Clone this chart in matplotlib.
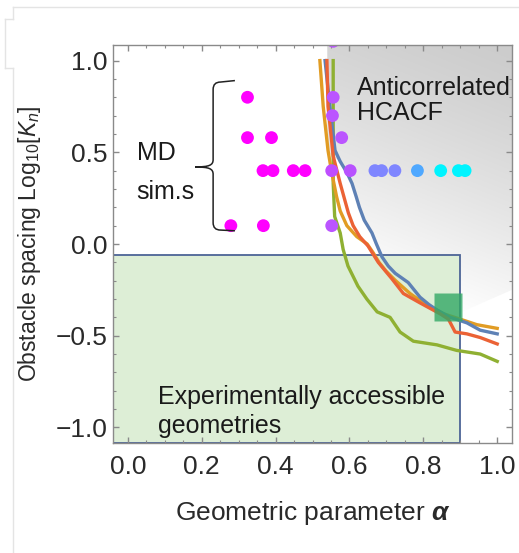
import numpy as np
import matplotlib
matplotlib.use('Agg')
import matplotlib.pyplot as plt
from matplotlib.path import Path
from matplotlib.patches import PathPatch, Rectangle, Polygon
from matplotlib.ticker import MultipleLocator
from matplotlib.lines import Line2D

# ---------------- data ----------------
blue_logk = [1.0, 0.75, 0.51, 0.45, 0.39, 0.33, 0.26, 0.20, 0.13, 0.06, 0.00, -0.07, -0.12,
             -0.16, -0.21, -0.25, -0.29, -0.33, -0.36, -0.40, -0.43, -0.47, -0.49]
blue_alpha = [0.534, 0.547, 0.561, 0.575, 0.593, 0.607, 0.618, 0.627, 0.640, 0.661, 0.673, 0.688, 0.705,
              0.724, 0.759, 0.775, 0.791, 0.815, 0.837, 0.873, 0.918, 0.954, 1.0]

orange_logk = [1.0, 0.75, 0.51, 0.39, 0.26, 0.18, 0.10, 0.04, 0.00, -0.05, -0.10, -0.15, -0.20,
               -0.27, -0.30, -0.33, -0.38, -0.41, -0.44, -0.46]
orange_alpha = [0.520, 0.529, 0.542, 0.552, 0.565, 0.575, 0.593, 0.620, 0.648, 0.665, 0.680, 0.700, 0.725,
                0.764, 0.785, 0.810, 0.854, 0.900, 0.945, 1.0]

red_logk = [1.0, 0.75, 0.48, 0.33, 0.17, 0.10, 0.04, -0.01, -0.10, -0.19, -0.27, -0.32, -0.38,
            -0.41, -0.48, -0.49, -0.51, -0.545]
red_alpha = [0.539, 0.542, 0.556, 0.575, 0.597, 0.610, 0.628, 0.650, 0.678, 0.715, 0.746, 0.790, 0.845,
             0.868, 0.886, 0.918, 0.954, 1.0]

green_logk = [1.0, 0.33, 0.15, 0.06, -0.03, -0.12, -0.23, -0.30, -0.37, -0.40, -0.48, -0.53, -0.55,
              -0.58, -0.60, -0.64]
green_alpha = [0.556, 0.556, 0.560, 0.575, 0.583, 0.596, 0.623, 0.647, 0.675, 0.710, 0.737, 0.773, 0.837,
               0.890, 0.954, 1.0]

md_alpha = [0.324, 0.556, 0.554, 0.324, 0.389, 0.579,
            0.366, 0.393, 0.448, 0.480, 0.552, 0.602, 0.669, 0.687, 0.723, 0.784, 0.847, 0.895, 0.913,
            0.279, 0.367, 0.552, 0.556]
md_logk = [0.80, 0.80, 0.70, 0.58, 0.58, 0.58,
           0.40, 0.40, 0.40, 0.40, 0.40, 0.40, 0.40, 0.40, 0.40, 0.40, 0.40, 0.40, 0.40,
           0.10, 0.10, 0.10, 1.105]
md_colors = ['#ff00ff', '#bb55ff', '#bb55ff', '#ff00ff', '#ff00ff', '#bb55ff',
             '#ff00ff', '#ff00ff', '#ff00ff', '#ff00ff', '#bf4dff', '#b852ff', '#7f86ff', '#7f86ff',
             '#7f86ff', '#4fa8ff', '#00f4ff', '#00f4ff', '#00f4ff',
             '#ff00ff', '#ff00ff', '#bb55ff', '#bb55ff']

expt_alpha_max = 0.90
expt_logk_max = -0.06
marker_alpha = [0.868]
marker_logk = [-0.345]

xticks = [0.0, 0.2, 0.4, 0.6, 0.8, 1.0]
yticks = [-1.0, -0.5, 0.0, 0.5, 1.0]

# ---------------- style ----------------
plt.rcParams['font.family'] = ['Liberation Sans', 'DejaVu Sans']
plt.rcParams['mathtext.fontset'] = 'custom'
plt.rcParams['mathtext.rm'] = 'Liberation Sans'
plt.rcParams['mathtext.it'] = 'Liberation Sans:italic'
plt.rcParams['mathtext.bf'] = 'Liberation Sans:bold:italic'

W, H = 519, 553
fig = plt.figure(figsize=(W / 100, H / 100), dpi=100)

# screenshot frame lines (light gray)
fl = '#e4e4e4'
def fline(xs, ys):
    fig.add_artist(Line2D([x / W for x in xs], [1 - y / H for y in ys], color=fl, lw=1.0))
fline([13, 519], [7, 7])
fline([13, 13], [7, 19])
fline([5, 13], [19, 19])
fline([5, 5], [19, 68])
fline([5, 13], [68, 68])
fline([13, 13], [68, 553])

ax = fig.add_axes([113 / W, 1 - 443 / H, 399 / W, 398 / H])
xmin, xmax = -0.04, 1.04
ymin, ymax = -1.085, 1.085
ax.set_xlim(xmin, xmax)
ax.set_ylim(ymin, ymax)

# gray gradient region (anticorrelated)
gx = np.linspace(0.54, xmax, 200)
gy = np.linspace(ymin, ymax, 400)
GX, GY = np.meshgrid(gx, gy)
t = np.clip(0.85 * (ymax - GY) / 1.35 + 0.25 * (xmax - GX) / 0.5, 0, 1)
v = 0.80 + 0.20 * t ** 1.3
img = np.dstack([v, v, v])
im = ax.imshow(img, extent=[0.54, xmax, ymin, ymax], origin='lower', aspect='auto',
               zorder=0.5, interpolation='bilinear')
bl = [(a, k) for a, k in zip(blue_alpha, blue_logk) if -0.40 <= k <= 0.45]
verts = [(0.54, ymax), (xmax, ymax), (xmax, -0.25), (0.87, -0.40)] + bl[::-1] + [(0.54, 0.5)]
clip = Polygon(verts, closed=True, transform=ax.transData)
im.set_clip_path(clip)

# experimentally accessible rectangle
ax.add_patch(Rectangle((xmin, ymin), expt_alpha_max - xmin, expt_logk_max - ymin,
                       facecolor='#ddeed6', edgecolor='#4c6496', lw=1.3, zorder=1))

# curves
lw = 2.4
ax.plot(green_alpha, green_logk, color='#8fb032', lw=lw, zorder=3)
ax.plot(orange_alpha, orange_logk, color='#e19c24', lw=lw, zorder=3)
ax.plot(blue_alpha, blue_logk, color='#5e81b5', lw=lw, zorder=3.1)
ax.plot(red_alpha, red_logk, color='#eb6235', lw=lw, zorder=3.2)

# green marker square
ax.plot(marker_alpha, marker_logk, 's', ms=20.5, color='#33a866', alpha=0.8, mec='none', zorder=4)

# MD simulation points
ax.scatter(md_alpha, md_logk, s=85, c=md_colors, edgecolors='none', zorder=5)

# brace
bx, by0, by1 = 0.231, 0.076, 0.883
tipx, tipy = 0.182, 0.42
hookx = 0.29
dx, dy = 0.02, 0.04
codes = [Path.MOVETO, Path.LINETO, Path.CURVE3, Path.CURVE3, Path.LINETO,
         Path.CURVE4, Path.CURVE4, Path.CURVE4,
         Path.CURVE4, Path.CURVE4, Path.CURVE4,
         Path.LINETO, Path.CURVE3, Path.CURVE3, Path.LINETO]
pts = [(hookx, by1 + 0.008), (bx + dx, by1), (bx, by1), (bx, by1 - dy),
       (bx, tipy + dy),
       (bx, tipy + 0.01), (bx - 0.01, tipy), (tipx, tipy),
       (bx - 0.01, tipy), (bx, tipy - 0.01), (bx, tipy - dy),
       (bx, by0 + dy), (bx, by0), (bx + dx, by0), (hookx, by0 - 0.004)]
ax.add_patch(PathPatch(Path(pts, codes), facecolor='none', edgecolor='#222222', lw=1.1, zorder=6))

# texts
fs = 18
tfs = 19
tc = '#1a1a1a'
ax.text(0.62, 0.85, 'Anticorrelated', fontsize=fs, va='center', ha='left', color=tc, zorder=7)
ax.text(0.62, 0.715, 'HCACF', fontsize=fs, va='center', ha='left', color=tc, zorder=7)
ax.text(0.024, 0.496, 'MD', fontsize=fs, va='center', ha='left', color=tc, zorder=7)
ax.text(0.024, 0.283, 'sim.s', fontsize=fs, va='center', ha='left', color=tc, zorder=7)
ax.text(0.081, -0.834, 'Experimentally accessible', fontsize=fs, va='center', ha='left',
        color=tc, zorder=7)
ax.text(0.081, -0.99, 'geometries', fontsize=fs, va='center', ha='left', color=tc, zorder=7)

# axes styling
for s in ax.spines.values():
    s.set_color('#8a8a8a')
    s.set_linewidth(1.0)
    s.set_zorder(8)
ax.set_xticks(xticks)
ax.set_yticks(yticks)
ax.set_xticklabels([f'{v:.1f}' for v in xticks])
ax.set_yticklabels([f'{v:.1f}'.replace('-', '\u2212') for v in yticks])
ax.xaxis.set_minor_locator(MultipleLocator(0.05))
ax.yaxis.set_minor_locator(MultipleLocator(0.1))
ax.tick_params(which='both', direction='in', top=True, right=True, color='#8a8a8a',
               labelcolor='#2a2a2a', labelsize=tfs)
ax.tick_params(which='major', length=4, width=1.0)
ax.tick_params(which='minor', length=2, width=0.8)
ax.tick_params(axis='x', which='major', pad=9)
ax.tick_params(axis='y', which='major', pad=4)

ax.set_xlabel(r'Geometric parameter $\mathbf{\alpha}$', fontsize=19, color='#2a2a2a', labelpad=14)
ax.set_ylabel(r'Obstacle spacing Log$_{10}$[$K_n$]', fontsize=16.5, color='#2a2a2a', labelpad=9)

fig.savefig('out.png', dpi=100)
